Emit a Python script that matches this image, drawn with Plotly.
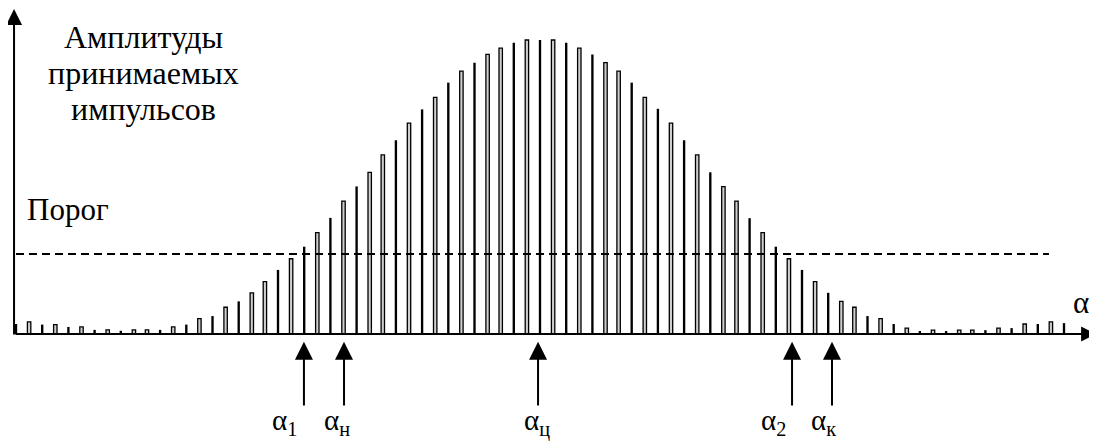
import plotly.graph_objects as go

# pulse numbers along the scan and received amplitudes (peak = 100)
pulse_index = list(range(81))
amplitudes = [
    3.4, 4.1, 3.2, 3.2, 2.4, 2.4, 1.4, 1.4, 1.1, 1.4,
    1.4, 1.4, 2.4, 3.2, 5.2, 6.1, 9.1, 11.1, 14.0, 17.8,
    21.8, 25.6, 29.7, 34.5, 39.5, 45.2, 50.2, 55.0, 60.9, 65.9,
    71.7, 76.4, 80.5, 85.5, 89.4, 92.3, 95.1, 97.2, 99.1, 100.0,
    100.0, 100.0, 99.1, 97.2, 95.1, 92.3, 89.4, 85.5, 80.5, 76.6,
    71.7, 65.9, 60.9, 55.0, 50.1, 45.2, 39.4, 34.5, 29.7, 25.6,
    21.8, 17.8, 14.0, 11.1, 9.1, 6.1, 5.2, 3.4, 2.0, 1.0,
    1.3, 1.0, 1.3, 1.3, 1.3, 2.0, 2.0, 3.4, 3.4, 4.1,
    3.7,
]
threshold = 27.2

# angle marks under the axis
mark_labels = ["α<sub>1</sub>", "α<sub>н</sub>", "α<sub>ц</sub>", "α<sub>2</sub>", "α<sub>к</sub>"]
mark_pos = [21.98, 25.04, 39.85, 59.24, 62.29]

# which pulses are drawn as open rectangles (the rest are thin solid strokes)
hollow = [
    0, 1, 0, 1, 0, 1, 0, 1, 0, 1,
    1, 0, 1, 0, 1, 0, 1, 0, 1, 1,
    0, 1, 0, 1, 0, 1, 0, 1, 1, 0,
    1, 0, 1, 0, 1, 0, 1, 1, 0, 1,
    0, 1, 0, 1, 0, 1, 1, 0, 1, 0,
    1, 0, 1, 0, 1, 1, 0, 1, 0, 1,
    0, 1, 0, 1, 1, 0, 1, 0, 1, 0,
    1, 0, 1, 1, 0, 1, 0, 1, 0, 1,
    0,
]

FONT = "Liberation Serif, DejaVu Serif, serif"
# the page body has an 8px margin, so the figure is 8px smaller than the window
W, H = 1089, 433
OFF = 8

hx = [x for x, h in zip(pulse_index, hollow) if h]
hy = [y for y, h in zip(amplitudes, hollow) if h]
sx = [x for x, h in zip(pulse_index, hollow) if not h]
sy = [y for y, h in zip(amplitudes, hollow) if not h]

fig = go.Figure()
fig.add_trace(go.Bar(
    x=hx, y=hy, width=[0.26] * len(hx),
    marker=dict(color="#cfcfcf", line=dict(color="black", width=1.3)),
))
fig.add_trace(go.Bar(
    x=sx, y=sy, width=[0.18] * len(sx),
    marker=dict(color="black", line=dict(width=0)),
))

# threshold line
fig.add_trace(go.Scatter(
    x=[0, 78.85], y=[threshold, threshold], mode="lines",
    line=dict(color="black", width=2, dash="8px,5px"),
))


def arrow(x, y, ax, ay, size=1.5):
    return dict(x=x, y=y, ax=ax, ay=ay, xref="x", yref="y", axref="x", ayref="y",
                showarrow=True, arrowhead=2, arrowsize=size, arrowwidth=2,
                arrowcolor="black", text="")


def caption(text, px, py, size=32):
    # position given in window pixels
    return dict(x=(px - OFF) / W, y=1 - (py - OFF) / H, xref="paper", yref="paper",
                xanchor="center", yanchor="middle", text=text, showarrow=False,
                font=dict(family=FONT, size=size, color="black"))


ann = []
ann.append(arrow(82.45, 0, -0.15, 0, 1.5))         # x axis
ann.append(arrow(-0.15, 110.5, -0.15, -0.7, 1.6))  # y axis

label_shift = [-19, -7, -1, -19, -9]
for lab, pos, dx in zip(mark_labels, mark_pos, label_shift):
    ann.append(arrow(pos, -2.6, pos, -24.8, 1.8))
    ann.append(dict(x=pos, y=-30.0, xref="x", yref="y", text=lab, showarrow=False,
                    xanchor="center", yanchor="middle", xshift=dx,
                    font=dict(family=FONT, size=29, color="black")))

for i, line in enumerate(["Амплитуды", "принимаемых", "импульсов"]):
    ann.append(caption(line, 143, 37 + 36 * i))
ann.append(caption("Порог", 68, 209, 31))
ann.append(caption("α", 1081, 302, 31))

fig.update_layout(
    width=W, height=H,
    margin=dict(l=0, r=0, t=0, b=0),
    paper_bgcolor="white", plot_bgcolor="white",
    barmode="overlay", showlegend=False,
    xaxis=dict(range=[-0.6107, 82.519], visible=False),
    yaxis=dict(range=[-36.39, 110.88], visible=False),
    annotations=ann,
)

fig.write_html("out.html")
